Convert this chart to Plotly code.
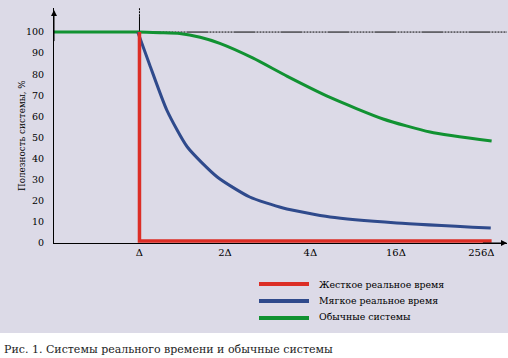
import plotly.graph_objects as go

# ---- data ----
tick_pos = [1, 2, 3, 4, 5]
tick_labels = ["Δ", "2Δ", "4Δ", "16Δ", "256Δ"]
y_ticks = [0, 10, 20, 30, 40, 50, 60, 70, 80, 90, 100]

hard_x = [1.0, 1.0, 5.12]
hard_y = [100, 1, 1]

soft_x = [0.98, 1.12, 1.32, 1.56, 1.91, 2.29, 2.68, 3.23, 4.01, 5.11]
soft_y = [100, 84.4, 63, 45.5, 31.3, 21.8, 16.6, 12.3, 9.5, 7.1]

conv_x = [0, 0.98, 1.24, 1.47, 1.71, 1.94, 2.33, 2.73, 3.23, 3.85, 4.40, 5.12]
conv_y = [100, 100, 99.7, 99.3, 97.5, 94.6, 87.6, 79, 69, 58.8, 52.6, 48.3]

names = ["Жесткое реальное время", "Мягкое реальное время", "Обычные системы"]
colors = ["#dc2e26", "#2f4a8c", "#119232"]

FONT = "DejaVu Serif"
BG = "#dcdae7"

fig = go.Figure()
fig.add_trace(go.Scatter(x=conv_x, y=conv_y, mode="lines", line=dict(color=colors[2], width=3, shape="spline", smoothing=0.6), name=names[2]))
fig.add_trace(go.Scatter(x=soft_x, y=soft_y, mode="lines", line=dict(color=colors[1], width=3, shape="spline", smoothing=0.6), name=names[1]))
fig.add_trace(go.Scatter(x=hard_x, y=hard_y, mode="lines", line=dict(color=colors[0], width=3.5), name=names[0]))

dotted = "22px" + ",1px,2px" * 8 + ",1px"
shapes = [
    dict(type="rect", xref="paper", yref="paper", x0=-0.13, x1=1.01, y0=-0.383, y1=1.05,
         fillcolor=BG, line=dict(width=0), layer="below"),
    dict(type="line", xref="x", yref="y", x0=1, x1=5.3, y0=100, y1=100,
         line=dict(color="black", width=1, dash=dotted), layer="below"),
    dict(type="line", xref="x", yref="y", x0=1, x1=1, y0=100, y1=107.5,
         line=dict(color="black", width=1), layer="below"),
    dict(type="line", xref="x", yref="y", x0=1, x1=1, y0=107.5, y1=111.4,
         line=dict(color="black", width=1, dash="2px,1px"), layer="below"),
]

annotations = [
    dict(x=0, y=110.5, ax=0, ay=95, xref="x", yref="y", axref="x", ayref="y", showarrow=True,
         arrowhead=2, arrowsize=1.2, arrowwidth=1, arrowcolor="black", text=""),
    dict(x=5.3, y=0, ax=5.0, ay=0, xref="x", yref="y", axref="x", ayref="y", showarrow=True,
         arrowhead=2, arrowsize=1.2, arrowwidth=1, arrowcolor="black", text=""),
    # double arrow under axis
    dict(x=1, y=-12.5, ax=0, ay=-12.5, xref="x", yref="y", axref="x", ayref="y", showarrow=True,
         arrowhead=2, startarrowhead=2, arrowside="end+start", arrowsize=1.2, arrowwidth=1, arrowcolor="black", text=""),
    dict(x=0.5, y=-16.8, xref="x", yref="y", text="Требуемое", showarrow=False,
         font=dict(family=FONT, size=10, color="black"), yanchor="middle"),
    dict(x=0.5, y=-23.0, xref="x", yref="y", text="время отклика", showarrow=False,
         font=dict(family=FONT, size=10, color="black"), yanchor="middle"),
    dict(x=2.63, y=-10.8, xref="x", yref="y", text="Задержка", showarrow=False,
         font=dict(family=FONT, size=10, color="black"), yanchor="middle"),
    dict(xref="paper", yref="paper", x=(22 - 54) / 453, y=(243 - 136) / 235, text="Полезность системы, %",
         textangle=-90, showarrow=False, font=dict(family=FONT, size=8.8, color="black"),
         xanchor="center", yanchor="middle"),
    dict(xref="paper", yref="paper", x=(2 - 54) / 453, y=(243 - 349) / 235,
         text="Рис. 1. Системы реального времени и обычные системы", showarrow=False,
         font=dict(family=FONT, size=11, color="#222"), xanchor="left", yanchor="middle"),
]

leg_y = [284, 301, 318]
leg_text_y = [284, 300, 316]
for i in range(3):
    shapes.append(dict(type="line", xref="paper", yref="paper",
                       x0=(259 - 54) / 453, x1=(309 - 54) / 453,
                       y0=(243 - leg_y[i]) / 235, y1=(243 - leg_y[i]) / 235,
                       line=dict(color=colors[i], width=4)))
    annotations.append(dict(xref="paper", yref="paper", x=(317 - 54) / 453, y=(243 - leg_text_y[i]) / 235,
                            text=names[i], showarrow=False, xanchor="left", yanchor="middle",
                            font=dict(family=FONT, size=9.4, color="black")))

fig.update_layout(
    width=508, height=358,
    margin=dict(l=54, r=1, t=8, b=115),
    paper_bgcolor="white", plot_bgcolor="rgba(0,0,0,0)",
    showlegend=False,
    shapes=shapes, annotations=annotations,
    font=dict(family=FONT, size=10, color="black"),
)
fig.update_xaxes(range=[0, 5.3], tickvals=tick_pos, ticktext=tick_labels, showgrid=False, zeroline=False,
                 showline=True, linecolor="black", linewidth=1, ticks="", tickfont=dict(family=FONT, size=10))
fig.update_yaxes(range=[0, 111.4], tickvals=y_ticks, showgrid=False, zeroline=False,
                 showline=True, linecolor="black", linewidth=1, ticks="outside", ticklen=7,
                 tickcolor="rgba(0,0,0,0)", tickfont=dict(family=FONT, size=9.5))

fig.write_html("out.html", config={"displayModeBar": False},
               post_script="document.body.style.margin='0';document.body.style.overflow='hidden';")
